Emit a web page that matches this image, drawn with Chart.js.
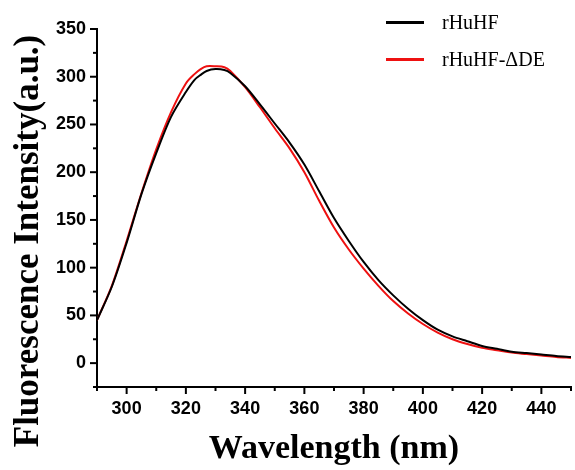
<!DOCTYPE html>
<html>
<head>
<meta charset="utf-8">
<script src="https://cdn.jsdelivr.net/npm/chart.js@4"></script>
<style>
    html, body { margin: 0; padding: 0; background: #fff; }
    #wrap { position: relative; width: 575px; height: 470px; }
    #legend { position: absolute; left: 386px; top: 4px; font-family: "Liberation Serif", serif; font-size: 20px; color: #000; }
    #legend .row { display: flex; align-items: center; height: 37px; }
    #legend .swatch { width: 38px; height: 3px; margin-right: 18px; }
</style>
</head>
<body>
<div id="wrap">
    <canvas id="chart" width="575" height="470"></canvas>
    <div id="legend"></div>
</div>
<script>
// wavelength (nm)
const wavelengths = [290, 295, 300, 305, 310, 315, 320, 323, 325, 327, 330, 333, 335, 340, 345, 350, 355, 360, 365, 370, 375, 380, 385, 390, 395, 400, 405, 410, 415, 420, 425, 430, 435, 440, 445, 450];
// rHuHF
const rHuHF = [45, 80, 126, 177, 220, 258, 284, 297, 302, 306, 308, 307, 304, 290, 271, 251, 231, 208, 180, 152, 128, 106, 87, 71, 57, 45, 35, 28, 23, 18, 15, 12, 10.5, 9, 7.5, 6.5];
// rHuHF-ΔDE
const rHuHFdDE = [45, 81, 128, 178, 224, 263, 293, 303, 308, 311, 311, 310, 306, 289, 268, 246, 225, 200, 170, 142, 119, 99, 81, 65, 52, 41, 32, 25, 20, 16, 13.5, 11, 9.5, 8, 6.5, 5.5];

const seriesNames = ['rHuHF', 'rHuHF-\u0394DE'];
const seriesColors = ['#000000', '#ee1111'];

function toPoints(ys) {
    return wavelengths.map((x, i) => ({ x: x, y: ys[i] }));
}

// 刻度线：主刻度长，次刻度短，朝外
const tickMarks = {
    id: 'tickMarks',
    afterDraw(chart) {
        const ctx = chart.ctx;
        const xs = chart.scales.x, ys = chart.scales.y;
        ctx.save();
        ctx.strokeStyle = '#000';
        ctx.lineWidth = 2;
        xs.ticks.forEach(t => {
            const px = xs.getPixelForValue(t.value);
            const len = t.value % 20 === 0 ? 7 : 4;
            ctx.beginPath();
            ctx.moveTo(px, xs.top);
            ctx.lineTo(px, xs.top + len);
            ctx.stroke();
        });
        ys.ticks.forEach(t => {
            const py = ys.getPixelForValue(t.value);
            const len = t.value % 50 === 0 ? 7 : 4;
            ctx.beginPath();
            ctx.moveTo(ys.right, py);
            ctx.lineTo(ys.right - len, py);
            ctx.stroke();
        });
        // y 轴标题
        ctx.translate(29, 241);
        ctx.rotate(-Math.PI / 2);
        ctx.fillStyle = '#000';
        ctx.font = 'bold 35px "Liberation Serif", serif';
        ctx.textAlign = 'center';
        ctx.textBaseline = 'middle';
        ctx.fillText('Fluorescence Intensity(a.u.)', 0, 0);
        ctx.restore();
    }
};

const tickFont = { family: '"Liberation Sans", Arial, sans-serif', size: 18, weight: 'bold' };

const chart = new Chart(document.getElementById('chart'), {
    type: 'line',
    data: {
        datasets: [
            { label: seriesNames[0], data: toPoints(rHuHF), borderColor: seriesColors[0], borderWidth: 2, pointRadius: 0, tension: 0.3, fill: false },
            { label: seriesNames[1], data: toPoints(rHuHFdDE), borderColor: seriesColors[1], borderWidth: 2, pointRadius: 0, tension: 0.3, fill: false }
        ]
    },
    options: {
        responsive: false,
        animation: false,
        layout: { padding: { top: 29, right: 0, left: 0, bottom: 0 } },
        plugins: {
            legend: { display: false },
            tooltip: { enabled: false }
        },
        scales: {
            x: {
                type: 'linear',
                min: 290,
                max: 450,
                afterFit(scale) { scale.height = 83; },
                grid: { display: true, drawOnChartArea: false, drawTicks: true, tickLength: 7, tickColor: 'transparent' },
                border: { display: true, color: '#000', width: 2 },
                ticks: {
                    stepSize: 10,
                    padding: 4,
                    color: '#000',
                    font: tickFont,
                    maxRotation: 0,
                    autoSkip: false,
                    callback: v => (v % 20 === 0 && v > 290 && v < 450) ? v : ''
                },
                title: {
                    display: true,
                    text: 'Wavelength (nm)',
                    color: '#000',
                    font: { family: '"Liberation Serif", serif', size: 34, weight: 'bold' },
                    padding: { top: 4, bottom: 0 }
                }
            },
            y: {
                min: -25,
                max: 350,
                afterFit(scale) { scale.width = 97; },
                grid: { display: true, drawOnChartArea: false, drawTicks: true, tickLength: 7, tickColor: 'transparent' },
                border: { display: true, color: '#000', width: 2 },
                ticks: {
                    stepSize: 25,
                    padding: 4,
                    color: '#000',
                    font: tickFont,
                    autoSkip: false,
                    callback: v => (v % 50 === 0 && v >= 0) ? v : ''
                }
            }
        }
    },
    plugins: [tickMarks]
});

// 图例
const legendBox = document.getElementById('legend');
chart.data.datasets.forEach(ds => {
    const row = document.createElement('div');
    row.className = 'row';
    row.innerHTML = `<span class="swatch" style="background:${ds.borderColor}"></span><span>${ds.label}</span>`;
    legendBox.appendChild(row);
});
</script>
</body>
</html>
